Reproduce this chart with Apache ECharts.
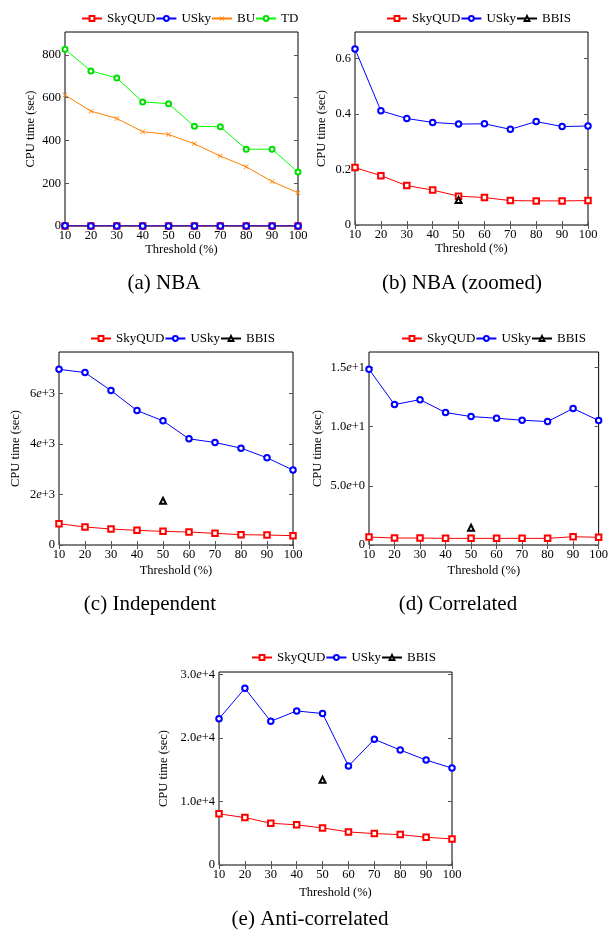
<!DOCTYPE html>
<html>
<head>
<meta charset="utf-8">
<script src="https://cdn.jsdelivr.net/npm/echarts@6/dist/echarts.min.js"></script>
<style>
html,body{margin:0;padding:0;background:#fff;}
#chart{width:611px;height:934px;}
</style>
</head>
<body>
<div id="chart"></div>
<script>
// ---- data ----
const thresholds = [10, 20, 30, 40, 50, 60, 70, 80, 90, 100];
const bbisThreshold = 50;

// NBA (panels a and b)
const nbaSkyQUD = [0.207, 0.178, 0.142, 0.126, 0.104, 0.099, 0.088, 0.087, 0.087, 0.088];
const nbaUSky   = [0.635, 0.412, 0.384, 0.370, 0.364, 0.365, 0.345, 0.373, 0.355, 0.357];
const nbaBU     = [612, 537, 503, 441, 428, 384, 327, 277, 208, 155];
const nbaTD     = [826, 725, 692, 580, 572, 466, 464, 359, 359, 252];
const nbaBBIS   = 0.090;

// Independent
const indSkyQUD = [842, 711, 632, 579, 539, 513, 461, 408, 395, 368];
const indUSky   = [6947, 6816, 6105, 5316, 4908, 4197, 4053, 3829, 3447, 2961];
const indBBIS   = 1750;

// Correlated
const corSkyQUD = [0.67, 0.59, 0.59, 0.56, 0.56, 0.56, 0.56, 0.56, 0.70, 0.65];
const corUSky   = [14.83, 11.85, 12.27, 11.18, 10.84, 10.70, 10.53, 10.42, 11.52, 10.51];
const corBBIS   = 1.46;

// Anti-correlated
const antSkyQUD = [8040, 7460, 6570, 6310, 5830, 5200, 4940, 4780, 4360, 4100];
const antUSky   = [23000, 27780, 22600, 24230, 23810, 15560, 19760, 18080, 16500, 15240];
const antBBIS   = 13400;

// tick values / labels
const xTicks = [10, 20, 30, 40, 50, 60, 70, 80, 90, 100];
const yTicksA = [0, 200, 400, 600, 800];
const yLabelsA = ['0', '200', '400', '600', '800'];
const yTicksB = [0, 0.2, 0.4, 0.6];
const yLabelsB = ['0', '0.2', '0.4', '0.6'];
const yTicksC = [0, 2000, 4000, 6000];
const yLabelsC = ['0', '2e+3', '4e+3', '6e+3'];
const yTicksD = [0, 5, 10, 15];
const yLabelsD = ['0', '5.0e+0', '1.0e+1', '1.5e+1'];
const yTicksE = [0, 10000, 20000, 30000];
const yLabelsE = ['0', '1.0e+4', '2.0e+4', '3.0e+4'];

const captions = ['(a) NBA', '(b) NBA (zoomed)', '(c) Independent', '(d) Correlated', '(e) Anti-correlated'];

// ---- layout ----
const FONT = "'Liberation Serif', 'Times New Roman', serif";
const panels = [
  {grid:{left:65, top:32, width:233, height:194}, ymax:907, yt:yTicksA, yl:yLabelsA, yGap:28, xGap:14,
   legend:{left:76, top:7}, cap:[164, 283], legendData:['SkyQUD','USky','BU','TD']},
  {grid:{left:355, top:32, width:233, height:193}, ymax:0.696, yt:yTicksB, yl:yLabelsB, yGap:27, xGap:14,
   legend:{left:381, top:7}, cap:[462, 283], legendData:['SkyQUD','USky','BBIS']},
  {grid:{left:59, top:352, width:234, height:193}, ymax:7630, yt:yTicksC, yl:yLabelsC, yGap:37, xGap:19,
   legend:{left:85, top:327}, cap:[150, 604], legendData:['SkyQUD','USky','BBIS']},
  {grid:{left:369, top:352, width:234, height:193}, ymax:16.29, yt:yTicksD, yl:yLabelsD, yGap:45, xGap:19,
   legend:{left:396, top:327}, cap:[458, 604], legendData:['SkyQUD','USky','BBIS']},
  {grid:{left:219, top:672, width:233, height:193}, ymax:30350, yt:yTicksE, yl:yLabelsE, yGap:49, xGap:21,
   legend:{left:246, top:646}, cap:[310, 919], legendData:['SkyQUD','USky','BBIS']}
];

function richLabel(s){
  const i = s.indexOf('e');
  if (i < 0) return '{n|' + s + '}';
  return '{n|' + s.slice(0, i) + '}{i|e}{n|' + s.slice(i + 1) + '}';
}

const grids = [], xAxes = [], yAxes = [], legends = [], graphics = [];
const tickStyle = {show:true, inside:true, length:4, lineStyle:{color:'#555', width:1}};

panels.forEach((p, k) => {
  grids.push(Object.assign({show:true, borderColor:'#000', borderWidth:1, backgroundColor:'transparent', containLabel:false}, p.grid));
  xAxes.push({type:'value', gridIndex:k, min:10, max:100, position:'bottom',
    name:'Threshold (%)', nameLocation:'middle', nameGap:p.xGap,
    nameTextStyle:{fontFamily:FONT, fontSize:12.5, color:'#000'},
    axisLine:{show:false}, splitLine:{show:false},
    axisTick:Object.assign({customValues:xTicks}, tickStyle),
    axisLabel:{customValues:xTicks, margin:3, fontFamily:FONT, fontSize:12.5, color:'#000'}});
  xAxes.push({type:'value', gridIndex:k, min:10, max:100, position:'top',
    axisLine:{show:false}, splitLine:{show:false},
    axisTick:Object.assign({customValues:xTicks}, tickStyle),
    axisLabel:{show:false}});
  const yt = p.yt, yl = p.yl;
  yAxes.push({type:'value', gridIndex:k, min:0, max:p.ymax, position:'left',
    name:'CPU time (sec)', nameLocation:'middle', nameGap:p.yGap, nameRotate:90,
    nameTextStyle:{fontFamily:FONT, fontSize:12.5, color:'#000'},
    axisLine:{show:false}, splitLine:{show:false},
    axisTick:Object.assign({customValues:yt}, tickStyle),
    axisLabel:{customValues:yt, margin:4, color:'#000', verticalAlign:'middle',
      formatter: function(v){
        let idx = -1;
        for (let j = 0; j < yt.length; j++) if (Math.abs(yt[j] - v) < 1e-9 * (1 + Math.abs(v))) idx = j;
        return idx < 0 ? '' : richLabel(yl[idx]);
      },
      rich:{n:{fontFamily:FONT, fontSize:12.5, color:'#000'}, i:{fontFamily:FONT, fontSize:12.5, fontStyle:'italic', color:'#000'}}}});
  yAxes.push({type:'value', gridIndex:k, min:0, max:p.ymax, position:'right',
    axisLine:{show:false}, splitLine:{show:false},
    axisTick:Object.assign({customValues:yt}, tickStyle),
    axisLabel:{show:false}});
  legends.push({data:p.legendData, left:p.legend.left, top:p.legend.top, orient:'horizontal',
    itemWidth:20, itemHeight:6, itemGap:0, selectedMode:false,
    textStyle:{fontFamily:FONT, fontSize:13, color:'#000'}});
  graphics.push({type:'text', x:p.cap[0], y:p.cap[1],
    style:{text:captions[k], x:0, y:0, align:'center', verticalAlign:'middle',
      fontFamily:FONT, fontSize:21, fill:'#000'}});
});

function pairs(arr){ return thresholds.map((t, i) => [t, arr[i]]); }

const X_PATH = 'path://M0,1L1,0L5,4L9,0L10,1L6,5L10,9L9,10L5,6L1,10L0,9L4,5Z';

function skyqud(k, arr){ return {name:'SkyQUD', type:'line', xAxisIndex:2*k, yAxisIndex:2*k, data:pairs(arr),
  symbol:'emptyRect', symbolSize:5.5, lineStyle:{color:'#ff0000', width:1}, itemStyle:{color:'#ff0000', borderWidth:1},
  color:'#ff0000', animation:false, z:3}; }
function usky(k, arr){ return {name:'USky', type:'line', xAxisIndex:2*k, yAxisIndex:2*k, data:pairs(arr),
  symbol:'emptyCircle', symbolSize:5.5, lineStyle:{color:'#0000ff', width:1}, itemStyle:{color:'#0000ff', borderWidth:1},
  color:'#0000ff', animation:false, z:4}; }
function bbis(k, v){ return {name:'BBIS', type:'line', xAxisIndex:2*k, yAxisIndex:2*k, data:[[bbisThreshold, v]],
  symbol:'emptyTriangle', symbolSize:6, lineStyle:{color:'#000', width:1}, itemStyle:{color:'#000', borderWidth:0.9},
  color:'#000', animation:false, z:5}; }

const series = [
  {name:'BU', type:'line', xAxisIndex:0, yAxisIndex:0, data:pairs(nbaBU), symbol:X_PATH, symbolSize:5,
   lineStyle:{color:'#ff8000', width:1}, itemStyle:{color:'#ff8000'}, color:'#ff8000', animation:false},
  {name:'TD', type:'line', xAxisIndex:0, yAxisIndex:0, data:pairs(nbaTD), symbol:'emptyCircle', symbolSize:5,
   lineStyle:{color:'#00ff00', width:1}, itemStyle:{color:'#00dd00', borderWidth:1.5}, color:'#00ff00', animation:false},
  skyqud(0, nbaSkyQUD), usky(0, nbaUSky),
  skyqud(1, nbaSkyQUD), usky(1, nbaUSky), bbis(1, nbaBBIS),
  skyqud(2, indSkyQUD), usky(2, indUSky), bbis(2, indBBIS),
  skyqud(3, corSkyQUD), usky(3, corUSky), bbis(3, corBBIS),
  skyqud(4, antSkyQUD), usky(4, antUSky), bbis(4, antBBIS)
];

const chart = echarts.init(document.getElementById('chart'), null, {renderer:'canvas'});
chart.setOption({
  animation:false,
  backgroundColor:'#fff',
  grid:grids, xAxis:xAxes, yAxis:yAxes, legend:legends, series:series,
  graphic:graphics
});
</script>
</body>
</html>
